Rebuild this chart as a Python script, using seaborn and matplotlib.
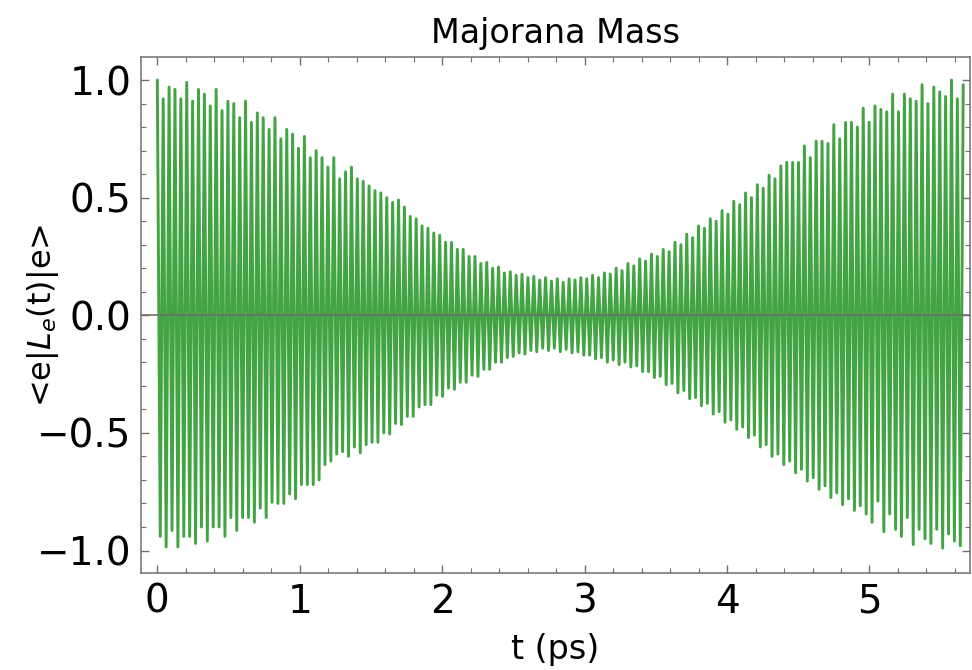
import numpy as np
import pandas as pd
import matplotlib
matplotlib.use("Agg")
import matplotlib.pyplot as plt
import seaborn as sns
from matplotlib.ticker import MultipleLocator

# ---- data ----
title = "Majorana Mass"
x_label = "t (ps)"
y_label = r"<e|$L_e$(t)|e>"

# oscillation period (ps) of the fast carrier, read from peak spacing
period = 0.0413

# successive maxima (at t = k*period)
upper_peaks = [
    1.00, 0.92, 0.97, 0.96, 0.92, 0.99, 0.91, 0.96, 0.94, 0.89,
    0.96, 0.87, 0.91, 0.90, 0.84, 0.91, 0.82, 0.86, 0.84, 0.79,
    0.84, 0.75, 0.79, 0.77, 0.71, 0.76, 0.67, 0.70, 0.67, 0.63,
    0.67, 0.58,
    0.61, 0.63, 0.58, 0.57, 0.55, 0.53, 0.52, 0.50, 0.48, 0.49,
    0.46, 0.42, 0.41, 0.38, 0.37, 0.35, 0.34, 0.31, 0.31, 0.28,
    0.28, 0.25, 0.25, 0.22, 0.225, 0.20, 0.205, 0.18, 0.185, 0.17,
    0.175, 0.16, 0.165, 0.15, 0.16, 0.145, 0.155, 0.14, 0.155, 0.15,
    0.16, 0.155, 0.17, 0.16, 0.18, 0.175, 0.20, 0.19, 0.22, 0.21,
    0.24, 0.23, 0.26, 0.25, 0.28, 0.27, 0.31, 0.30, 0.345, 0.33,
    0.38, 0.37, 0.41, 0.40, 0.445, 0.43, 0.485, 0.47, 0.52, 0.50,
    0.555, 0.54, 0.595, 0.58, 0.635,
    0.65, 0.65, 0.65, 0.72, 0.67, 0.74, 0.74, 0.73, 0.81, 0.75,
    0.82, 0.82, 0.80, 0.88, 0.82, 0.89, 0.875, 0.865, 0.94, 0.865,
    0.94, 0.92, 0.91, 0.98, 0.90, 0.97, 0.95, 0.93, 1.00, 0.92,
    0.98,
]

# successive minima (at t = (k+0.5)*period)
lower_peaks = [
    -0.94, -0.985, -0.915, -0.985, -0.94, -0.94, -0.97, -0.90, -0.96, -0.90,
    -0.90, -0.94, -0.86, -0.915, -0.86, -0.86, -0.88, -0.82, -0.86, -0.795,
    -0.80, -0.80, -0.76, -0.78, -0.72, -0.72, -0.72, -0.70, -0.635, -0.62,
    -0.59,
    -0.58, -0.60, -0.56, -0.585, -0.55, -0.54, -0.54, -0.50, -0.505, -0.46,
    -0.465, -0.43, -0.43, -0.39, -0.38, -0.38, -0.34, -0.345, -0.31, -0.315,
    -0.285, -0.285, -0.255, -0.26, -0.23, -0.23, -0.20, -0.20, -0.18, -0.175,
    -0.16, -0.165, -0.15, -0.155, -0.14, -0.15, -0.14, -0.155, -0.145, -0.16,
    -0.155, -0.17, -0.17, -0.185, -0.18, -0.20, -0.19, -0.21, -0.20, -0.22,
    -0.215, -0.24, -0.24, -0.265, -0.26, -0.295, -0.29, -0.33, -0.32, -0.355,
    -0.35, -0.385, -0.375, -0.42, -0.41, -0.455, -0.445, -0.485, -0.475, -0.52,
    -0.51, -0.56, -0.55, -0.60, -0.59, -0.635, -0.62, -0.67, -0.655, -0.705,
    -0.69, -0.74, -0.725, -0.775, -0.755, -0.805, -0.78, -0.83, -0.81,
    -0.845, -0.88, -0.79, -0.92, -0.845, -0.91, -0.94, -0.86, -0.975, -0.91,
    -0.95, -0.97, -0.91, -0.99, -0.93, -0.96, -0.98,
]

x_ticks = [0, 1, 2, 3, 4, 5]
y_ticks = [-1.0, -0.5, 0.0, 0.5, 1.0]

# ---- build the series (alternating maxima and minima) ----
n = len(upper_peaks) + len(lower_peaks)
values = np.empty(n)
values[0::2] = upper_peaks
values[1::2] = lower_peaks
times = np.arange(n) * period / 2.0
df = pd.DataFrame({"t": times, "L": values})

# ---- plot ----
sns.set_theme(style="ticks")
plt.rcParams["font.family"] = ["DejaVu Sans"]
plt.rcParams["mathtext.fontset"] = "dejavusans"

fig = plt.figure(figsize=(9.72, 6.70), dpi=100)
ax = fig.add_axes([0.145, 0.145, 0.853, 0.77])

sns.lineplot(data=df, x="t", y="L", ax=ax, sort=False, estimator=None,
             color="#42a442", linewidth=2.1)
ax.axhline(0, color="#707070", linewidth=1.2, zorder=5)

ax.set_xlim(-0.115, 5.706)
ax.set_ylim(-1.095, 1.098)
ax.set_xticks(x_ticks)
ax.set_yticks(y_ticks)
ax.set_yticklabels([f"{v:.1f}".replace("-", "\u2212") for v in y_ticks])
ax.xaxis.set_minor_locator(MultipleLocator(0.2))
ax.yaxis.set_minor_locator(MultipleLocator(0.1))

for side in ["left", "right", "top", "bottom"]:
    ax.spines[side].set_visible(True)
    ax.spines[side].set_color("#707070")
    ax.spines[side].set_linewidth(1.1)

ax.tick_params(which="both", direction="in", top=True, right=True,
               color="#707070", labelsize=28, labelcolor="black")
ax.tick_params(which="major", length=6, width=1.0, pad=7)
ax.tick_params(which="minor", length=3.5, width=0.8)

ax.set_xlabel(x_label, fontsize=24, color="black", labelpad=9)
ax.set_ylabel(y_label, fontsize=23, color="black")
ax.yaxis.set_label_coords(-0.097, 0.5)
ax.set_title(title, fontsize=24, color="black", pad=10)

fig.savefig("out.png", dpi=100, facecolor="white")
